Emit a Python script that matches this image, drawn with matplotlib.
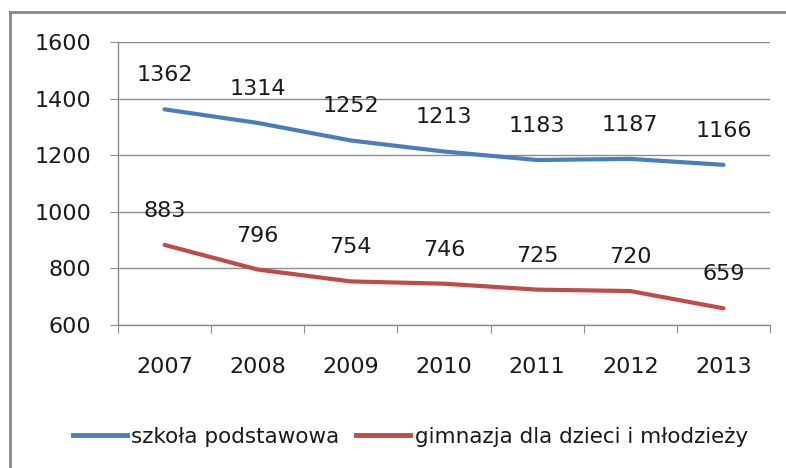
import matplotlib.pyplot as plt
from matplotlib.lines import Line2D

years = ["2007", "2008", "2009", "2010", "2011", "2012", "2013"]
szkola = [1362, 1314, 1252, 1213, 1183, 1187, 1166]
gimnazjum = [883, 796, 754, 746, 725, 720, 659]
series_names = ["szkoła podstawowa", "gimnazja dla dzieci i młodzieży"]

plt.rcParams['font.family'] = ['DejaVu Sans']
grid_c = "#8c8c8c"
txt_c = "#1a1a1a"
fs = 16

fig = plt.figure(figsize=(7.86, 4.68), dpi=100)
ax = fig.add_axes([118 / 786, 1 - 325 / 468, 652 / 786, 283 / 468])

x = list(range(len(years)))
ax.plot(x, szkola, color="#4A7EBB", lw=3, solid_capstyle="round", label=series_names[0])
ax.plot(x, gimnazjum, color="#BE4B48", lw=3, solid_capstyle="round", label=series_names[1])

for xi, v in zip(x, szkola):
    ax.annotate(str(v), (xi, v), xytext=(0, 24.5), textcoords="offset points",
                ha="center", va="center", fontsize=fs, color=txt_c)
for xi, v in zip(x, gimnazjum):
    ax.annotate(str(v), (xi, v), xytext=(0, 24.5), textcoords="offset points",
                ha="center", va="center", fontsize=fs, color=txt_c)

ax.set_xlim(-0.5, 6.5)
ax.set_ylim(600, 1600)
ax.set_yticks(range(600, 1601, 200))
ax.set_xticks([i - 0.5 for i in range(8)])
ax.set_xticklabels([])
ax.set_xticks(x, minor=True)
ax.set_xticklabels(years, minor=True)
ax.tick_params(axis="x", which="minor", length=0, pad=23, labelsize=fs, labelcolor=txt_c)
ax.tick_params(axis="x", which="major", length=6, color=grid_c, direction="out")
ax.tick_params(axis="y", length=6, color=grid_c, pad=13, labelsize=fs, labelcolor=txt_c)
ax.grid(axis="y", color=grid_c, lw=1)
ax.set_axisbelow(True)
for s in ["top", "right"]:
    ax.spines[s].set_visible(False)
for s in ["left", "bottom"]:
    ax.spines[s].set_color(grid_c)
    ax.spines[s].set_linewidth(1)

handles = [Line2D([], [], color="#4A7EBB", lw=3.5), Line2D([], [], color="#BE4B48", lw=3.5)]
fig.legend(handles, series_names, loc="center", bbox_to_anchor=(0.522, 1 - 437 / 468),
           ncol=2, frameon=False, fontsize=15.5, handlelength=2.5, handletextpad=0.2,
           columnspacing=0.8, labelcolor=txt_c)

# outer chart frame (only top and left edges visible)
fig.add_artist(Line2D([10 / 786, 1], [1 - 12 / 468, 1 - 12 / 468], color="#888888", lw=2))
fig.add_artist(Line2D([10 / 786, 10 / 786], [0, 1 - 12 / 468], color="#888888", lw=2))

fig.savefig("out.png", dpi=100)
